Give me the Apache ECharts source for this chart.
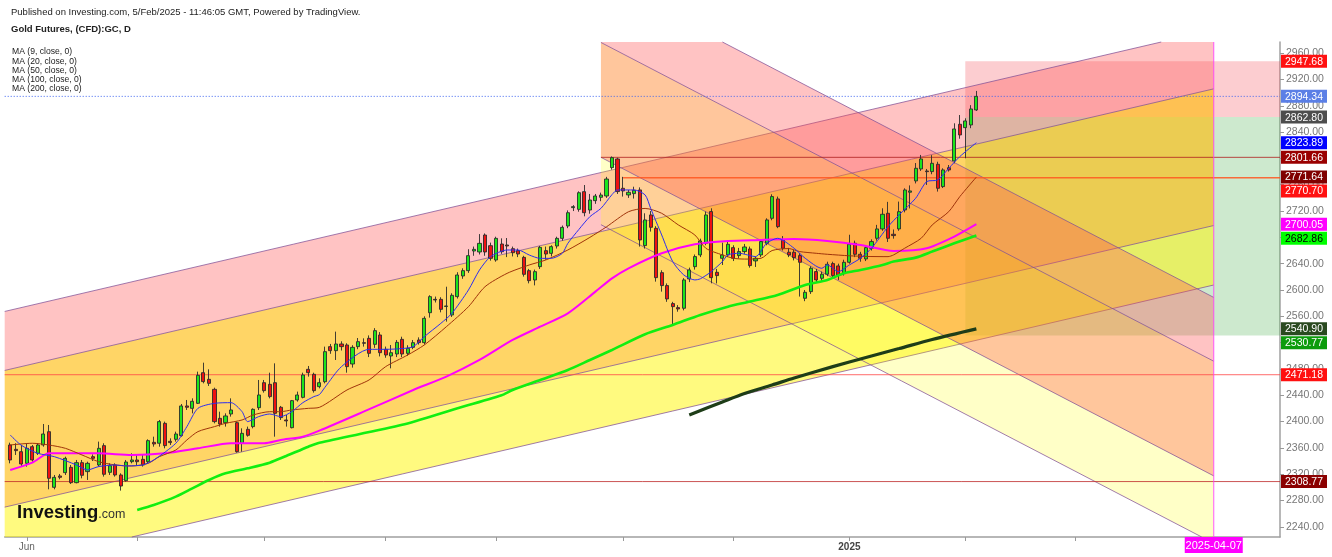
<!DOCTYPE html>
<html><head><meta charset="utf-8">
<script src="https://cdn.jsdelivr.net/npm/echarts@6/dist/echarts.min.js"></script>
<style>html,body{margin:0;padding:0;background:#fff}#chart{width:1332px;height:557px}</style>
</head><body><div id="chart"></div>
<script>
// ---------------- DATA ----------------
const holidays = ['2024-09-02','2024-11-28','2024-12-25','2025-01-01','2025-01-20'];
const firstDay = '2024-05-28', lastDay = '2025-04-23';
const candleFirstDay = '2024-05-29';
// [open, high, low, close]
const ohlc = [
[2364.4,2367.9,2336.5,2341.6],[2357.8,2367.0,2349.2,2355.8],[2354.2,2364.4,2331.5,2335.5],[2336.5,2367.0,2331.5,2359.3],
[2361.8,2364.4,2339.0,2341.6],[2351.7,2367.0,2349.2,2364.4],[2364.4,2396.3,2361.8,2381.1],[2384.6,2394.8,2297.0,2313.7],
[2300.0,2318.8,2297.0,2315.2],[2317.3,2320.3,2312.2,2315.2],[2322.3,2346.6,2318.8,2344.1],[2330.4,2334.0,2305.1,2307.1],
[2307.1,2341.6,2306.1,2337.5],[2337.5,2341.6,2313.7,2318.3],[2323.9,2339.0,2311.2,2336.5],[2346.6,2350.0,2340.0,2344.1],
[2334.0,2369.5,2331.5,2359.3],[2363.4,2367.0,2316.3,2319.8],[2322.8,2336.5,2318.8,2333.0],[2334.0,2336.5,2316.3,2318.8],
[2318.8,2321.3,2295.0,2302.0],[2310.2,2341.6,2308.7,2338.5],[2339.0,2351.7,2336.5,2341.6],[2341.6,2349.0,2334.0,2339.0],
[2342.6,2349.2,2331.5,2334.0],[2339.0,2373.0,2336.5,2371.0],[2368.4,2377.0,2361.8,2365.9],[2367.0,2402.4,2361.8,2399.9],
[2397.3,2399.9,2359.3,2363.4],[2370.0,2374.5,2364.4,2368.0],[2373.0,2384.6,2369.5,2381.1],[2378.6,2426.7,2377.0,2423.7],
[2423.7,2432.8,2417.6,2421.7],[2420.1,2435.3,2412.5,2430.8],[2427.7,2475.9,2426.7,2470.3],[2474.3,2489.5,2458.1,2460.7],
[2464.2,2479.4,2454.1,2458.1],[2449.0,2451.5,2397.3,2399.9],[2404.9,2415.0,2392.3,2396.3],[2398.3,2412.5,2392.3,2408.5],
[2411.5,2435.3,2407.5,2417.6],[2398.3,2399.9,2352.7,2354.2],[2367.0,2389.7,2354.2,2382.1],[2388.2,2392.3,2377.0,2379.1],
[2392.3,2420.1,2389.7,2418.6],[2421.1,2463.2,2417.6,2440.4],[2459.1,2463.2,2444.0,2447.0],[2456.6,2474.3,2435.3,2437.9],
[2459.1,2488.5,2377.0,2412.5],[2421.7,2423.7,2402.4,2406.0],[2402.4,2410.0,2392.3,2401.0],[2390.7,2432.8,2389.7,2431.8],
[2432.8,2445.5,2430.3,2440.4],[2436.8,2474.3,2435.3,2470.8],[2479.4,2484.5,2468.3,2474.3],[2471.8,2474.3,2444.0,2447.0],
[2453.1,2465.7,2450.5,2459.1],[2460.6,2513.9,2458.1,2506.3],[2513.9,2518.0,2503.0,2507.8],[2507.8,2536.7,2493.6,2517.9],
[2517.9,2522.0,2508.0,2513.9],[2516.4,2519.0,2474.3,2483.5],[2487.5,2516.0,2482.0,2512.8],[2513.9,2527.0,2510.0,2521.5],
[2519.9,2526.5,2513.9,2519.0],[2526.5,2531.0,2498.0,2503.7],[2517.4,2542.0,2512.0,2538.2],[2531.6,2536.0,2499.0,2504.7],
[2509.8,2514.0,2497.0,2501.2],[2499.7,2516.4,2480.9,2504.7],[2502.7,2524.0,2498.0,2520.4],[2525.0,2529.0,2498.0,2502.7],
[2503.7,2516.0,2500.0,2511.3],[2512.8,2524.0,2510.0,2519.9],[2524.0,2528.0,2517.0,2520.0],[2520.0,2560.0,2517.0,2556.9],
[2565.5,2592.0,2558.0,2589.9],[2585.8,2590.0,2581.0,2584.8],[2585.8,2589.0,2566.0,2570.6],[2575.0,2605.0,2551.9,2575.7],
[2562.0,2595.0,2559.0,2591.9],[2589.9,2627.0,2587.0,2622.8],[2621.3,2633.0,2617.0,2629.4],[2629.4,2662.0,2626.0,2652.2],
[2659.3,2666.0,2652.0,2661.8],[2657.8,2685.0,2654.0,2670.9],[2683.6,2686.0,2652.0,2657.8],[2667.4,2672.0,2644.6,2648.1],
[2645.6,2681.0,2643.0,2678.5],[2669.9,2678.5,2655.0,2658.3],[2668.4,2679.0,2650.0,2666.9],[2662.8,2666.0,2651.0,2656.7],
[2659.8,2663.0,2650.0,2654.7],[2649.6,2652.0,2620.3,2623.8],[2629.4,2632.0,2610.1,2614.2],[2615.2,2631.0,2607.0,2627.9],
[2635.5,2667.0,2632.0,2664.8],[2659.8,2666.0,2646.0,2654.7],[2655.7,2668.0,2651.0,2665.9],[2666.9,2681.0,2663.0,2678.5],
[2678.5,2698.0,2675.0,2695.2],[2697.3,2721.0,2694.0,2717.5],[2725.2,2729.0,2720.0,2726.7],[2722.6,2750.0,2719.0,2747.9],
[2749.5,2759.6,2712.0,2717.5],[2721.6,2746.0,2716.0,2736.8],[2735.8,2746.0,2731.0,2742.9],[2740.9,2748.0,2735.0,2744.4],
[2742.9,2772.0,2740.0,2768.7],[2786.0,2803.0,2783.0,2801.2],[2799.2,2801.0,2746.0,2749.6],[2754.6,2772.0,2742.0,2750.6],
[2744.5,2752.0,2740.0,2748.5],[2746.5,2757.0,2739.0,2751.6],[2752.1,2756.0,2666.0,2676.1],[2667.5,2716.6,2663.0,2706.5],
[2714.1,2720.0,2688.8,2695.3],[2693.8,2697.0,2612.7,2618.8],[2626.4,2630.0,2597.5,2606.7],[2606.7,2610.0,2582.0,2586.4],
[2579.3,2582.0,2546.9,2574.7],[2573.2,2577.0,2567.0,2571.2],[2572.2,2618.0,2569.0,2615.3],[2616.8,2634.0,2612.0,2630.5],
[2635.5,2654.0,2631.0,2650.8],[2653.3,2678.0,2650.0,2674.6],[2671.0,2719.2,2668.0,2714.1],[2719.2,2724.2,2610.2,2618.8],
[2626.9,2632.0,2610.0,2621.9],[2648.2,2672.0,2638.0,2653.3],[2653.3,2674.0,2650.0,2669.5],[2664.4,2668.0,2644.0,2648.2],
[2652.3,2664.0,2648.0,2658.4],[2658.4,2670.0,2655.0,2665.4],[2662.4,2666.0,2634.0,2637.1],[2644.2,2651.0,2635.0,2648.2],
[2653.3,2677.0,2650.0,2673.6],[2671.0,2709.0,2668.0,2706.5],[2709.0,2745.5,2706.0,2742.0],[2738.4,2742.0,2694.0,2696.3],
[2676.1,2682.0,2660.0,2663.4],[2657.4,2664.0,2650.0,2653.3],[2657.4,2661.0,2645.0,2649.2],[2652.3,2656.0,2590.0,2642.1],
[2587.4,2600.0,2583.0,2596.5],[2597.5,2636.0,2594.0,2633.0],[2628.0,2632.0,2612.0,2615.3],[2617.8,2628.0,2614.0,2624.0],
[2624.0,2643.0,2621.0,2639.1],[2640.1,2643.0,2618.0,2621.9],[2636.6,2640.0,2615.3,2622.9],[2624.9,2646.0,2622.0,2642.1],
[2642.1,2684.0,2640.0,2669.5],[2671.0,2675.0,2650.0,2654.3],[2654.3,2658.0,2643.0,2648.2],[2647.2,2668.0,2644.0,2664.4],
[2663.4,2677.0,2660.0,2673.6],[2678.6,2699.0,2675.0,2692.8],[2692.8,2724.2,2690.0,2715.1],[2716.6,2734.0,2673.0,2678.6],
[2684.7,2692.0,2678.0,2682.7],[2692.8,2734.4,2690.0,2719.1],[2721.7,2754.6,2718.0,2752.1],[2748.6,2759.0,2724.0,2750.6],
[2765.8,2793.0,2762.0,2785.0],[2784.0,2805.3,2781.0,2799.2],[2780.9,2784.0,2759.7,2779.9],[2780.0,2805.0,2776.0,2792.6],
[2791.1,2795.0,2749.6,2754.6],[2757.2,2785.0,2755.0,2782.5],[2786.0,2790.0,2780.0,2782.5],[2796.2,2853.4,2792.6,2844.8],
[2851.9,2866.0,2830.0,2835.7],[2846.8,2861.0,2800.2,2857.0],[2850.9,2881.0,2846.0,2875.2],[2873.7,2902.6,2872.2,2894.34]
];
const ma9 = [['2024-05-29',2379.6],['2024-05-31',2364],['2024-06-05',2351.7],['2024-06-10',2346.6],['2024-06-14',2334],['2024-06-18',2326.4],['2024-06-20',2331.5],['2024-06-25',2334],['2024-06-27',2332.5],['2024-07-02',2334],['2024-07-04',2341.6],['2024-07-10',2367],['2024-07-12',2392.3],['2024-07-16',2420.1],['2024-07-19',2427.7],['2024-07-24',2428.7],['2024-07-26',2415],['2024-07-29',2399.9],['2024-07-31',2407.5],['2024-08-02',2411.5],['2024-08-06',2407.5],['2024-08-08',2415],['2024-08-12',2428.7],['2024-08-14',2437.9],['2024-08-15',2441],['2024-08-16',2452],['2024-08-21',2483.5],['2024-08-28',2509.8],['2024-09-03',2509.8],['2024-09-06',2511],['2024-09-10',2513.9],['2024-09-12',2529],['2024-09-17',2549.3],['2024-09-19',2564.5],['2024-09-24',2600],['2024-09-26',2630.4],['2024-09-30',2650.7],['2024-10-03',2660.8],['2024-10-07',2660.8],['2024-10-09',2653.2],['2024-10-11',2648.1],['2024-10-15',2648.1],['2024-10-17',2655.7],['2024-10-18',2670.9],['2024-10-22',2692],['2024-10-24',2711.5],['2024-10-28',2724.1],['2024-10-30',2745],['2024-10-31',2752.1],['2024-11-05',2752.1],['2024-11-07',2744.5],['2024-11-08',2724.2],['2024-11-12',2683.7],['2024-11-14',2643.2],['2024-11-18',2622.9],['2024-11-20',2615.3],['2024-11-21',2617],['2024-11-25',2628],['2024-11-27',2643.2],['2024-11-29',2653.3],['2024-12-03',2655.8],['2024-12-06',2650.8],['2024-12-10',2671],['2024-12-12',2678.6],['2024-12-17',2663.4],['2024-12-19',2648.2],['2024-12-24',2633],['2024-12-26',2638.1],['2024-12-30',2628],['2025-01-02',2638.1],['2025-01-06',2648.2],['2025-01-08',2663.4],['2025-01-13',2696.3],['2025-01-15',2714.1],['2025-01-21',2739.4],['2025-01-23',2764.8],['2025-01-27',2767.3],['2025-01-29',2785],['2025-01-31',2802.8],['2025-02-05',2823.89]];
const ma20 = [['2024-05-29',2364.4],['2024-06-04',2367],['2024-06-07',2364.4],['2024-06-12',2359.3],['2024-06-17',2349.2],['2024-06-20',2339],['2024-06-25',2334],['2024-06-28',2332.5],['2024-07-03',2336.5],['2024-07-05',2346.6],['2024-07-10',2356.8],['2024-07-12',2372],['2024-07-16',2384.7],['2024-07-19',2392.3],['2024-07-23',2397.3],['2024-07-26',2402.4],['2024-07-30',2410],['2024-08-02',2415],['2024-08-06',2415],['2024-08-08',2417.6],['2024-08-13',2420.1],['2024-08-15',2421.6],['2024-08-22',2448],['2024-08-28',2463.2],['2024-09-03',2483.5],['2024-09-09',2501.2],['2024-09-12',2516.4],['2024-09-18',2544.2],['2024-09-24',2574.6],['2024-09-27',2605],['2024-10-03',2625.3],['2024-10-09',2638],['2024-10-14',2645.6],['2024-10-18',2660.8],['2024-10-24',2680],['2024-10-29',2696],['2024-11-04',2719],['2024-11-07',2724],['2024-11-12',2716.6],['2024-11-15',2699],['2024-11-20',2683.7],['2024-11-22',2663.4],['2024-11-27',2653.3],['2024-12-02',2648.2],['2024-12-04',2647],['2024-12-09',2648.2],['2024-12-11',2660],['2024-12-16',2663],['2024-12-18',2658.4],['2024-12-23',2655.8],['2024-12-26',2654.3],['2025-01-02',2652],['2025-01-07',2651],['2025-01-13',2650.7],['2025-01-14',2653.3],['2025-01-16',2663.4],['2025-01-22',2678.6],['2025-01-24',2698.9],['2025-01-29',2719.1],['2025-01-31',2741.9],['2025-02-05',2771.64]];
const ma50 = [['2024-05-29',2326.4],['2024-06-04',2337.5],['2024-06-07',2351.7],['2024-06-12',2351.7],['2024-06-20',2351.7],['2024-06-28',2349.2],['2024-07-08',2351.7],['2024-07-16',2359.3],['2024-07-24',2367],['2024-08-01',2367],['2024-08-06',2372],['2024-08-12',2377],['2024-08-15',2386.2],['2024-08-27',2415],['2024-09-10',2448],['2024-09-18',2468.3],['2024-09-26',2493.6],['2024-10-04',2524],['2024-10-11',2544.2],['2024-10-18',2564.5],['2024-10-25',2597.5],['2024-10-30',2617.7],['2024-11-04',2633],['2024-11-12',2655.8],['2024-11-20',2669.5],['2024-11-29',2674.6],['2024-12-09',2676.1],['2024-12-17',2677.6],['2024-12-26',2674.6],['2025-01-06',2668.5],['2025-01-14',2659.4],['2025-01-23',2663.4],['2025-01-30',2681.2],['2025-02-05',2700.05]];
const ma100 = [['2024-07-01',2265.6],['2024-07-04',2273.2],['2024-07-10',2285.9],['2024-07-15',2298.5],['2024-07-18',2311.2],['2024-07-23',2321.3],['2024-07-29',2328.9],['2024-08-02',2337.5],['2024-08-07',2347.7],['2024-08-13',2361.8],['2024-08-15',2367.9],['2024-09-06',2395],['2024-09-19',2417.6],['2024-10-02',2440],['2024-10-04',2448],['2024-10-11',2463.2],['2024-10-18',2478.4],['2024-10-24',2493.6],['2024-10-30',2508.8],['2024-11-07',2532.7],['2024-11-14',2546.9],['2024-11-21',2562.1],['2024-11-29',2574.7],['2024-12-05',2582.4],['2024-12-12',2592.5],['2024-12-19',2607.7],['2024-12-26',2615.3],['2024-12-31',2625.4],['2025-01-06',2630.5],['2025-01-10',2638.1],['2025-01-14',2643.2],['2025-01-21',2649.2],['2025-01-24',2658.4],['2025-01-30',2671],['2025-02-05',2682.86]];
const ma200 = [['2024-11-19',2410],['2024-11-27',2429.8],['2024-12-04',2442.7],['2024-12-11',2455.6],['2024-12-17',2466.2],['2024-12-27',2483.5],['2025-01-07',2497.4],['2025-01-15',2511],['2025-01-24',2524.8],['2025-02-05',2540.9]];

// drawings (dates and prices)
const ascFrom = '2024-05-28', ascTo = '2025-04-07';
const ascStartLevels = [2567.4, 2477.7, 2269.9, 2179.5];
const ascEndLevels = [2995.6, 2905.8, 2698.0, 2607.6];
const descFrom = '2024-10-28', descTo = '2025-04-07';
const descStartLevels = [3073.0, 2976.3, 2801.66, 2699.3];
const descEndLevels = [2588.7, 2491.7, 2317.4, 2215.0];
const posFrom = '2025-02-03', posTo = '2025-04-23';
const posStop = 2947.68, posEntry = 2862.80, posTarget = 2530.77;
const hLineValues = [2801.66, 2770.70, 2471.18, 2308.77];
const hLineFrom = ['2024-10-28', '2024-11-01', '2024-05-28', '2024-05-28'];
const lastPrice = 2894.34;
const markerDate = '2025-04-07';

const yMin = 2224.5, yMax = 2977.0;
const yTicks = [2240,2280,2320,2360,2400,2440,2480,2520,2560,2600,2640,2680,2720,2760,2800,2840,2880,2920,2960];
const monthTicks = ['2024-06-03','2024-07-01','2024-08-01','2024-09-03','2024-10-01','2024-11-01','2024-12-02','2025-01-02','2025-02-03','2025-03-03'];
const xLabelDays = ['2024-06-03','2025-01-02'];
const xLabelTexts = ['Jun','2025'];

const tagValues = [2947.68, 2894.34, 2862.80, 2823.89, 2801.66, 2771.64, 2770.70, 2700.05, 2682.86, 2540.90, 2530.77, 2471.18, 2308.77];
const tagColors = ['#ff1010','#5b7fe6','#4d4d4d','#0000ff','#9a0000','#800000','#ff1010','#ff00ff','#00ff00','#2a4a20','#0c9c0c','#ff1010','#8b0000'];
const tagTextColors = ['#fff','#fff','#fff','#fff','#fff','#fff','#fff','#fff','#000','#fff','#fff','#fff','#fff'];

// ---------------- BUILD ----------------
function weekdays(from, to, skip) {
  const out = []; const d = new Date(from + 'T00:00:00Z'); const end = new Date(to + 'T00:00:00Z');
  while (d <= end) {
    const w = d.getUTCDay(); const s = d.toISOString().slice(0, 10);
    if (w !== 0 && w !== 6 && skip.indexOf(s) < 0) out.push(s);
    d.setUTCDate(d.getUTCDate() + 1);
  }
  return out;
}
const days = weekdays(firstDay, lastDay, holidays);
const di = d => days.indexOf(d);
const c0 = di(candleFirstDay);
const candleData = days.map((d, i) => {
  const r = ohlc[i - c0];
  return r ? [r[0], r[3], r[2], r[1]] : '-';
});

const FONT = 'Arial, "Liberation Sans", sans-serif';
const fills = {
  pink: 'rgba(255,82,82,0.35)', gold: 'rgba(255,185,0,0.6)', yellow: 'rgba(255,245,0,0.5)',
  peach: 'rgba(255,130,40,0.46)', pale: 'rgba(255,255,0,0.22)',
  stop: 'rgba(242,54,69,0.25)', target: 'rgba(76,175,80,0.28)'
};
const chanLine = 'rgba(130,80,150,0.75)';
const hLineColors = ['rgba(175,30,30,0.8)', 'rgba(255,85,30,0.85)', 'rgba(255,70,70,0.8)', 'rgba(190,40,40,0.8)'];

function clipPoly(pts, x0, y0, x1, y1) {
  const inside = [p => p[0] >= x0, p => p[0] <= x1, p => p[1] >= y0, p => p[1] <= y1];
  const inter = [
    (a, b) => [x0, a[1] + (x0 - a[0]) / (b[0] - a[0]) * (b[1] - a[1])],
    (a, b) => [x1, a[1] + (x1 - a[0]) / (b[0] - a[0]) * (b[1] - a[1])],
    (a, b) => [a[0] + (y0 - a[1]) / (b[1] - a[1]) * (b[0] - a[0]), y0],
    (a, b) => [a[0] + (y1 - a[1]) / (b[1] - a[1]) * (b[0] - a[0]), y1]
  ];
  let out = pts;
  for (let e = 0; e < 4; e++) {
    const inp = out; out = [];
    for (let i = 0; i < inp.length; i++) {
      const cur = inp[i], prev = inp[(i + inp.length - 1) % inp.length];
      const ci = inside[e](cur), pi = inside[e](prev);
      if (ci) { if (!pi) out.push(inter[e](prev, cur)); out.push(cur); }
      else if (pi) out.push(inter[e](prev, cur));
    }
    if (!out.length) break;
  }
  return out;
}
function clipSeg(a, b, x0, y0, x1, y1) {
  let t0 = 0, t1 = 1; const dx = b[0] - a[0], dy = b[1] - a[1];
  const p = [-dx, dx, -dy, dy], q = [a[0] - x0, x1 - a[0], a[1] - y0, y1 - a[1]];
  for (let i = 0; i < 4; i++) {
    if (p[i] === 0) { if (q[i] < 0) return null; }
    else { const t = q[i] / p[i];
      if (p[i] < 0) { if (t > t1) return null; if (t > t0) t0 = t; }
      else { if (t < t0) return null; if (t < t1) t1 = t; } }
  }
  return [[a[0] + t0 * dx, a[1] + t0 * dy], [a[0] + t1 * dx, a[1] + t1 * dy]];
}

function renderDrawings(params, api) {
  const cs = params.coordSys;
  const X0 = cs.x, Y0 = cs.y, X1 = cs.x + cs.width, Y1 = cs.y + cs.height;
  const P = (d, v) => api.coord([di(d), v]);
  const kids = [];
  const poly = (pts, fill) => { const c = clipPoly(pts, X0, Y0, X1, Y1); if (c.length > 2) kids.push({ type: 'polygon', shape: { points: c }, style: { fill: fill } }); };
  const seg = (a, b, stroke, w, dash) => { const c = clipSeg(a, b, X0, Y0, X1, Y1); if (c) kids.push({ type: 'line', shape: { x1: c[0][0], y1: c[0][1], x2: c[1][0], y2: c[1][1] }, style: { stroke: stroke, lineWidth: w, lineDash: dash || null } }); };
  // position tool
  poly([P(posFrom, posStop), P(posTo, posStop), P(posTo, posEntry), P(posFrom, posEntry)], fills.stop);
  poly([P(posFrom, posEntry), P(posTo, posEntry), P(posTo, posTarget), P(posFrom, posTarget)], fills.target);
  // channels
  const channel = (from, to, s, e, cols) => {
    for (let k = 0; k < 3; k++) poly([P(from, s[k]), P(to, e[k]), P(to, e[k + 1]), P(from, s[k + 1])], cols[k]);
    for (let k = 0; k < 4; k++) seg(P(from, s[k]), P(to, e[k]), chanLine, 1);
  };
  channel(ascFrom, ascTo, ascStartLevels, ascEndLevels, [fills.pink, fills.gold, fills.yellow]);
  channel(descFrom, descTo, descStartLevels, descEndLevels, [fills.pink, fills.peach, fills.pale]);
  // horizontal levels
  hLineValues.forEach((v, k) => seg(P(hLineFrom[k], v), P(lastDay, v), hLineColors[k], k === 1 ? 1.5 : 1));
  seg(P(firstDay, lastPrice), P(lastDay, lastPrice), '#3b62f0', 1, [1, 2]);
  // vertical date line
  seg(P(markerDate, yMin), P(markerDate, yMax), 'rgba(255,60,255,0.85)', 1);
  return { type: 'group', children: kids };
}

function renderTags(params, api) {
  const cs = params.coordSys;
  const xr = cs.x + cs.width;
  const H = 14;
  const items = tagValues.map((v, k) => ({ v: v, k: k, y: api.coord([0, v])[1] })).sort((a, b) => a.y - b.y);
  for (let i = 1; i < items.length; i++) if (items[i].y < items[i - 1].y + H) items[i].y = items[i - 1].y + H;
  const kids = [];
  items.forEach(it => {
    kids.push({ type: 'rect', shape: { x: xr + 1, y: it.y - H / 2 + 0.5, width: 46, height: H - 1 }, style: { fill: tagColors[it.k] } });
    kids.push({ type: 'text', style: { text: it.v.toFixed(2), x: xr + 24, y: it.y + 0.5, fill: tagTextColors[it.k], font: '10.5px ' + FONT, align: 'center', verticalAlign: 'middle', textAlign: 'center', textVerticalAlign: 'middle' } });
  });
  // date tag on x axis
  const xm = api.coord([di(markerDate), yMin])[0];
  const yb = cs.y + cs.height;
  kids.push({ type: 'rect', shape: { x: xm - 29, y: yb, width: 58, height: 16 }, style: { fill: '#ff00ff' } });
  kids.push({ type: 'text', style: { text: markerDate, x: xm, y: yb + 8.5, fill: '#fff', font: '11px ' + FONT, align: 'center', verticalAlign: 'middle', textAlign: 'center', textVerticalAlign: 'middle' } });
  return { type: 'group', children: kids };
}

const maLine = (name, data, color, width, z, smooth) => ({
  name: name, type: 'line', data: data, showSymbol: false, symbol: 'none', smooth: smooth,
  lineStyle: { color: color, width: width }, z: z, silent: true
});

const chart = echarts.init(document.getElementById('chart'), null, { renderer: 'canvas' });
chart.setOption({
  animation: false,
  backgroundColor: '#ffffff',
  grid: { left: 4.7, right: 52, top: 42, bottom: 20, containLabel: false, outerBoundsMode: 'none' },
  xAxis: {
    type: 'category', data: days, boundaryGap: false,
    axisLine: { lineStyle: { color: '#a0a0a0', width: 1.5 } },
    axisTick: { interval: (i, v) => monthTicks.indexOf(v) >= 0, length: 4, lineStyle: { color: '#999' } },
    axisLabel: {
      interval: (i, v) => xLabelDays.indexOf(v) >= 0,
      formatter: v => { const k = xLabelDays.indexOf(v); return k === 1 ? '{b|' + xLabelTexts[k] + '}' : xLabelTexts[k]; },
      color: '#666', fontSize: 10, fontFamily: FONT, margin: 5,
      rich: { b: { fontWeight: 'bold', color: '#444', fontSize: 10, fontFamily: FONT } }
    },
    splitLine: { show: false }
  },
  yAxis: {
    type: 'value', position: 'right', min: yMin, max: yMax,
    axisLine: { show: true, lineStyle: { color: '#a0a0a0', width: 1.5 } },
    axisTick: { show: true, customValues: yTicks, length: 4, lineStyle: { color: '#999' } },
    axisLabel: { customValues: yTicks, formatter: v => Number(v).toFixed(2), color: '#777', fontSize: 10.5, fontFamily: FONT, margin: 6 },
    splitLine: { show: false }
  },
  graphic: [
    { type: 'text', left: 11, top: 7, style: { text: 'Published on Investing.com, 5/Feb/2025 - 11:46:05 GMT, Powered by TradingView.', font: '9.5px ' + FONT, fill: '#222' } },
    { type: 'text', left: 11, top: 24, style: { text: 'Gold Futures, (CFD):GC, D', font: 'bold 9.5px ' + FONT, fill: '#222' } },
    { type: 'text', left: 12, top: 47.5, style: { text: 'MA (9, close, 0)\nMA (20, close, 0)\nMA (50, close, 0)\nMA (100, close, 0)\nMA (200, close, 0)', font: '8.6px ' + FONT, fill: '#222', lineHeight: 9.2 } },
    { type: 'text', left: 17, top: 503, z: 100, style: { text: '{a|Investing}{b|.com}', rich: { a: { fontSize: 18.5, fontWeight: 'bold', fontFamily: FONT, fill: '#111', color: '#111' }, b: { fontSize: 12.5, fontFamily: FONT, fill: '#333', color: '#333', padding: [4, 0, 0, 0] } } } }
  ],
  series: [
    { name: 'drawings', type: 'custom', data: [[0, 2600]], renderItem: renderDrawings, z: 1, silent: true, clip: false },
    { name: 'Gold', type: 'candlestick', data: candleData, barWidth: 3.6, z: 3, silent: true,
      itemStyle: { color: '#1be51b', color0: '#ee1111', borderColor: '#2b2b2b', borderColor0: '#2b2b2b', borderWidth: 0.9 } },
    maLine('MA200', ma200, '#1e3d18', 3.2, 4, 0.3),
    maLine('MA100', ma100, '#11ee11', 2.6, 4, 0.25),
    maLine('MA50', ma50, '#ff00ff', 2, 4, 0.25),
    maLine('MA20', ma20, '#a0330a', 1, 5, 0.25),
    maLine('MA9', ma9, '#2d2df0', 1, 5, 0.25),
    { name: 'tags', type: 'custom', data: [[0, 2600]], renderItem: renderTags, z: 10, silent: true, clip: false }
  ]
});
</script>
</body></html>
